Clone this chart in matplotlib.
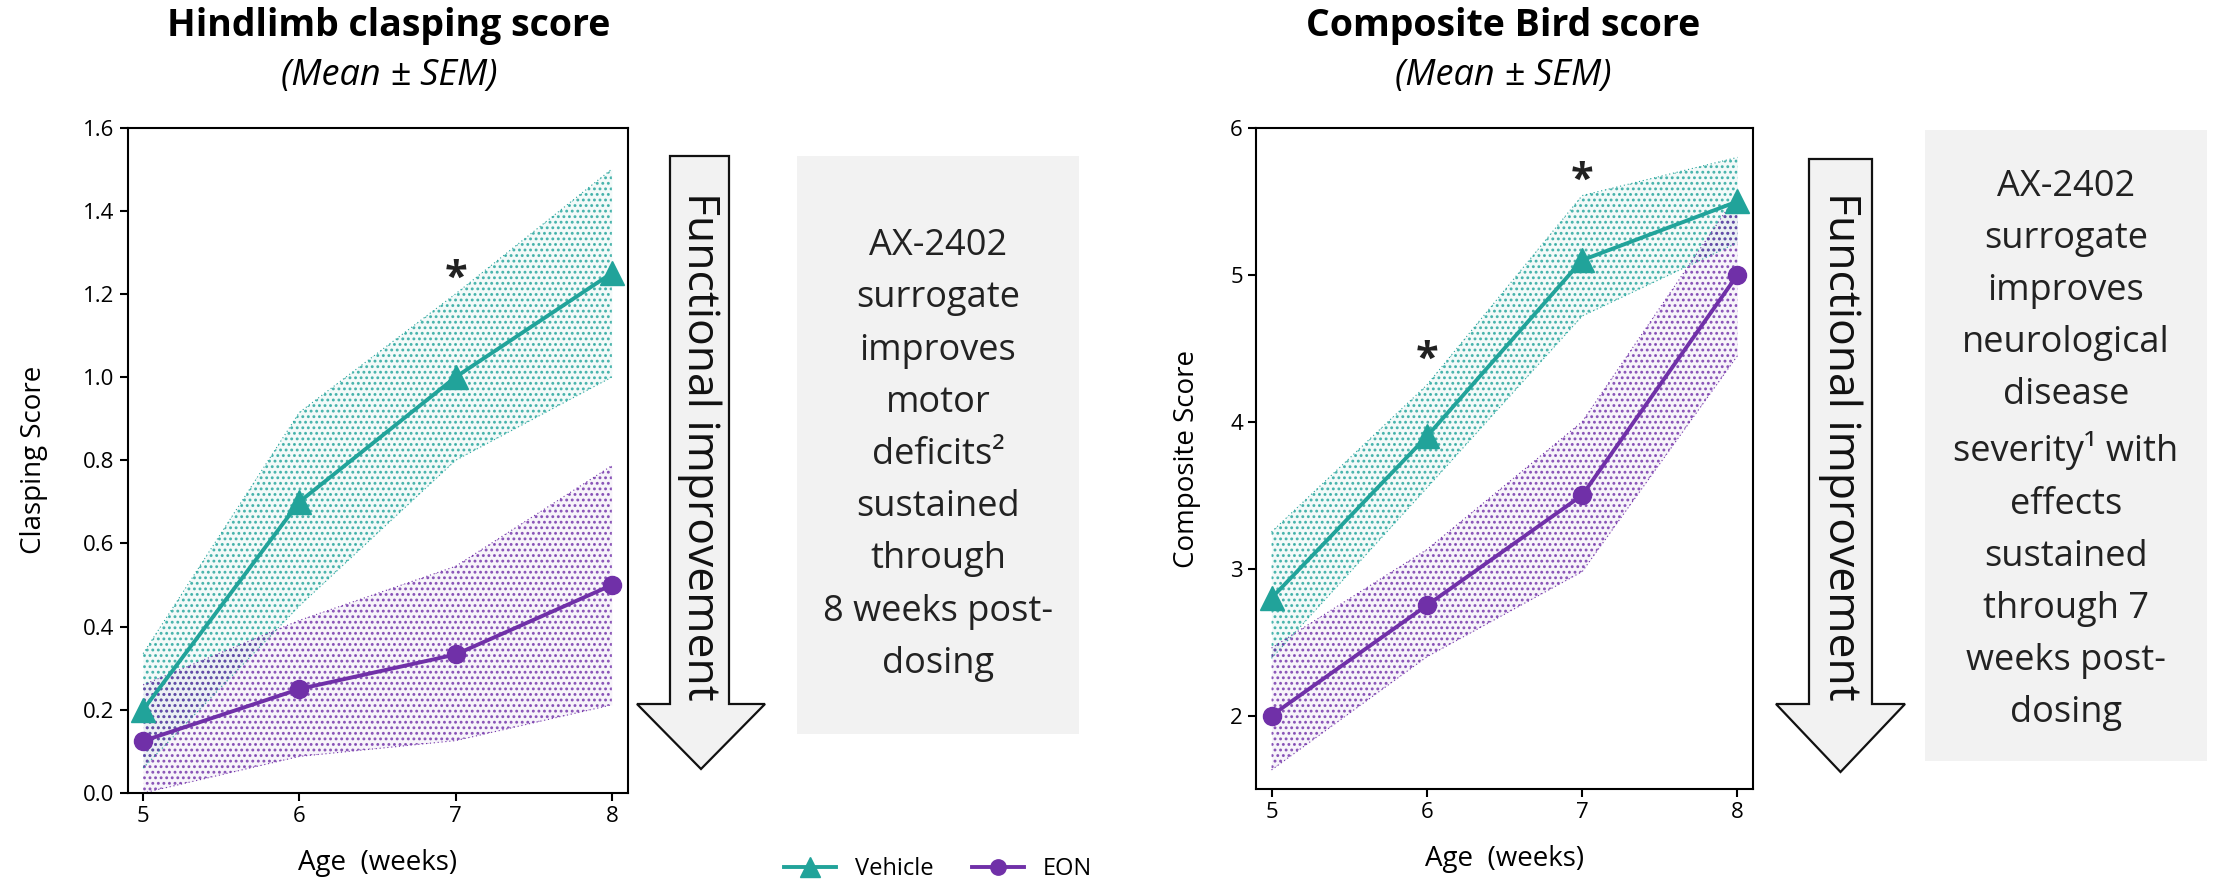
import matplotlib
matplotlib.use("Agg")
import matplotlib.pyplot as plt
from matplotlib.patches import Polygon, Rectangle

plt.rcParams['font.family'] = ['Open Sans', 'DejaVu Sans']
plt.rcParams['hatch.linewidth'] = 1.3

teal = '#21a39a'
purple = '#7030a8'

weeks = [5, 6, 7, 8]

# Hindlimb clasping score
clasp_vehicle = [0.2, 0.7, 1.0, 1.25]
clasp_vehicle_hi = [0.335, 0.915, 1.2, 1.5]
clasp_vehicle_lo = [0.06, 0.45, 0.8, 1.0]
clasp_eon = [0.125, 0.25, 0.333, 0.5]
clasp_eon_hi = [0.26, 0.415, 0.545, 0.787]
clasp_eon_lo = [0.0, 0.088, 0.126, 0.212]
clasp_stars = [(7, 1.185)]

# Composite Bird score
bird_vehicle = [2.8, 3.9, 5.1, 5.5]
bird_vehicle_hi = [3.25, 4.25, 5.54, 5.8]
bird_vehicle_lo = [2.39, 3.55, 4.72, 5.22]
bird_eon = [2.0, 2.75, 3.5, 5.0]
bird_eon_hi = [2.46, 3.13, 4.0, 5.55]
bird_eon_lo = [1.63, 2.4, 2.98, 4.45]
bird_stars = [(6, 4.28), (7, 5.5)]

W, H = 2221, 883
fig = plt.figure(figsize=(W / 100, H / 100), dpi=100)


def px(x0, y0, x1, y1):
    # pixel box (top-left origin) -> figure fraction rect
    return [x0 / W, 1 - y1 / H, (x1 - x0) / W, (y1 - y0) / H]


def band(ax, x, lo, hi, color):
    ax.fill_between(x, lo, hi, color=color, alpha=0.05, linewidth=0)
    ax.fill_between(x, lo, hi, facecolor='none', edgecolor=color,
                    hatch='...', linewidth=0, alpha=0.8)
    ax.plot(x, lo, color=color, lw=0.8, ls=(0, (1, 2.5)))
    ax.plot(x, hi, color=color, lw=0.8, ls=(0, (1, 2.5)))


def panel(rect, veh, veh_lo, veh_hi, eon, eon_lo, eon_hi, stars,
          ylim, yticks, yfmt, ylabel, ypad, title, title_x):
    ax = fig.add_axes(rect)
    band(ax, weeks, veh_lo, veh_hi, teal)
    band(ax, weeks, eon_lo, eon_hi, purple)
    ax.plot(weeks, veh, color=teal, lw=2.8, marker='^', ms=17,
            label='Vehicle', zorder=5)
    ax.plot(weeks, eon, color=purple, lw=2.8, marker='o', ms=13,
            label='EON', zorder=5)
    for sx, sy in stars:
        ax.text(sx, sy, '*', ha='center', va='bottom', fontsize=30,
                fontweight='bold', color='#222222')
    ax.set_xlim(4.9, 8.1)
    ax.set_ylim(*ylim)
    ax.set_xticks(weeks)
    ax.set_yticks(yticks)
    ax.set_yticklabels([yfmt.format(v) for v in yticks])
    ax.tick_params(labelsize=16, width=1.5, length=6)
    for s in ax.spines.values():
        s.set_linewidth(1.5)
    ax.set_xlabel('Age  (weeks)', fontsize=20, labelpad=16)
    ax.set_ylabel(ylabel, fontsize=20, labelpad=ypad)
    fig.text(title_x / W, 1 - 26 / H, title, ha='center', va='center',
             fontsize=27, fontweight='bold')
    fig.text(title_x / W, 1 - 76 / H, '(Mean ± SEM)', ha='center', va='center',
             fontsize=26, style='italic')
    return ax


ax1 = panel(px(127.5, 127.5, 627.5, 793), clasp_vehicle, clasp_vehicle_lo,
            clasp_vehicle_hi, clasp_eon, clasp_eon_lo, clasp_eon_hi,
            clasp_stars, (0, 1.6), [0, 0.2, 0.4, 0.6, 0.8, 1.0, 1.2, 1.4, 1.6],
            '{:.1f}', 'Clasping Score', 25, 'Hindlimb clasping score', 389)
ax2 = panel(px(1256, 128, 1753, 789), bird_vehicle, bird_vehicle_lo,
            bird_vehicle_hi, bird_eon, bird_eon_lo, bird_eon_hi,
            bird_stars, (1.5, 6), [2, 3, 4, 5, 6],
            '{:.0f}', 'Composite Score', 21, 'Composite Bird score', 1503)


def down_arrow(x0, x1, hx0, hx1, top, base, tip, text_y):
    pts = [(x0, top), (x1, top), (x1, base), (hx1, base), ((hx0 + hx1) / 2, tip),
           (hx0, base), (x0, base)]
    pts = [(x / W, 1 - y / H) for x, y in pts]
    fig.patches.append(Polygon(pts, closed=True, transform=fig.transFigure,
                               facecolor='#f2f2f2', edgecolor='#111111', lw=1.6))
    fig.text((x0 + x1) / 2 / W, 1 - text_y / H,
             'Functional improvement', rotation=-90, ha='center', va='center',
             fontsize=32, color='#111111')


def note_box(x0, y0, x1, y1, text, text_y):
    fig.patches.append(Rectangle((x0 / W, 1 - y1 / H), (x1 - x0) / W,
                                 (y1 - y0) / H, transform=fig.transFigure,
                                 facecolor='#f2f2f2', edgecolor='none'))
    fig.text((x0 + x1) / 2 / W, 1 - text_y / H, text, ha='center',
             va='center', fontsize=26, color='#222222', linespacing=1.6)


down_arrow(670, 729, 637, 765, 156, 704, 769, 446)
note_box(797, 156, 1079, 734,
         'AX-2402\nsurrogate\nimproves\nmotor\ndeficits²\nsustained\nthrough\n8 weeks post-\ndosing',
         455)

down_arrow(1809, 1872, 1776, 1905, 159, 704, 772, 446)
note_box(1925, 130, 2207, 761,
         'AX-2402\nsurrogate\nimproves\nneurological\ndisease\nseverity¹ with\neffects\nsustained\nthrough 7\nweeks post-\ndosing',
         450)

handles, labels = ax1.get_legend_handles_labels()
fig.legend(handles, labels, loc='center', bbox_to_anchor=(938 / W, 1 - 869 / H),
           ncol=2, frameon=False, fontsize=17, handlelength=2.2,
           columnspacing=1.6, markerscale=0.85)

fig.savefig('out.png', dpi=100)
